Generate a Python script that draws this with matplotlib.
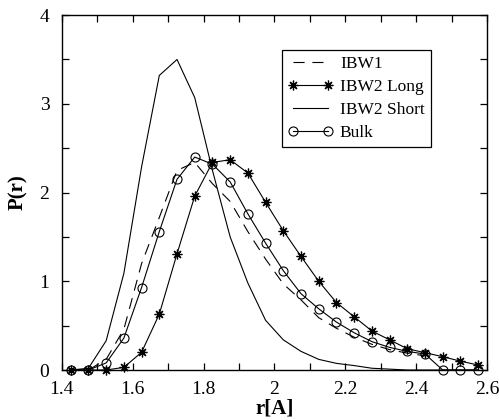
import matplotlib
matplotlib.use("Agg")
from matplotlib import pyplot as plt
import numpy as np

plt.rcParams['font.family'] = ['Liberation Serif', 'DejaVu Serif']

# r values (bin centres)
r = [1.425, 1.475, 1.525, 1.575, 1.625, 1.675, 1.725, 1.775, 1.825, 1.875,
     1.925, 1.975, 2.025, 2.075, 2.125, 2.175, 2.225, 2.275, 2.325, 2.375,
     2.425, 2.475, 2.525, 2.575]

ibw1 = [0.0, 0.0, 0.12, 0.46, 1.2, 1.72, 2.25, 2.34, 2.1, 1.9,
        1.56, 1.25, 0.97, 0.79, 0.59, 0.47, 0.37, 0.29, 0.23, 0.19,
        0.16]

ibw2_long = [0.0, 0.0, 0.0, 0.03, 0.2, 0.63, 1.31, 1.96, 2.34, 2.37,
             2.22, 1.89, 1.57, 1.28, 1.0, 0.76, 0.6, 0.44, 0.34, 0.24,
             0.195, 0.15, 0.1, 0.056]

ibw2_short = [0.0, 0.02, 0.33, 1.09, 2.29, 3.32, 3.5, 3.07, 2.25, 1.5,
              0.98, 0.56, 0.34, 0.21, 0.12, 0.075, 0.05, 0.02, 0.01, 0.0,
              0.0, 0.0, 0.0, 0.0]

bulk = [0.0, 0.0, 0.08, 0.36, 0.93, 1.56, 2.15, 2.4, 2.32, 2.12,
        1.76, 1.43, 1.12, 0.86, 0.69, 0.54, 0.42, 0.32, 0.255, 0.21,
        0.18, 0.0, 0.0, 0.0]

fig = plt.figure(figsize=(4.99, 4.20), dpi=100)
ax = fig.add_axes([0.124, 0.119, 0.852, 0.845])

ax.plot(r[:len(ibw1)], ibw1, color='black', lw=0.8, dashes=(10, 7), label='IBW1')
ax.plot(r, ibw2_long, color='black', lw=0.8, marker=(8, 2, 0), markersize=7,
        markeredgewidth=0.9, label='IBW2 Long', clip_on=False)
ax.plot(r, ibw2_short, color='black', lw=0.8, label='IBW2 Short')
ax.plot(r, bulk, color='black', lw=0.8, marker='o', markersize=6.5,
        markerfacecolor='none', markeredgewidth=0.8, label='Bulk', clip_on=False)

ax.set_xlim(1.4, 2.6)
ax.set_ylim(0, 4)
ax.set_xticks(np.arange(1.4, 2.61, 0.2))
ax.set_xticks(np.arange(1.4, 2.61, 0.1), minor=True)
ax.set_yticks([0, 1, 2, 3, 4])
ax.set_yticks(np.arange(0, 4.01, 0.5), minor=True)
ax.set_xticklabels(['1.4', '1.6', '1.8', '2', '2.2', '2.4', '2.6'])
ax.set_yticklabels(['0', '1', '2', '3', '4'])
ax.tick_params(which='both', direction='in', top=True, right=True,
               length=5, width=0.9, labelsize=14)
ax.tick_params(axis='x', pad=8)
ax.tick_params(axis='y', pad=9)
for s in ax.spines.values():
    s.set_linewidth(1.0)

ax.set_xlabel('r[A]', fontsize=15, fontweight='bold', labelpad=0)
ax.set_ylabel('P(r)', fontsize=15, fontweight='bold', labelpad=8)

leg = ax.legend(loc='upper left', bbox_to_anchor=(0.517, 0.901), fontsize=12.5,
                frameon=True, fancybox=False, edgecolor='black', framealpha=1,
                handlelength=2.6, handletextpad=0.4, labelspacing=0.38,
                borderpad=0.35, borderaxespad=0, numpoints=2)
leg.get_frame().set_linewidth(0.9)

fig.savefig('out.png', dpi=100)
